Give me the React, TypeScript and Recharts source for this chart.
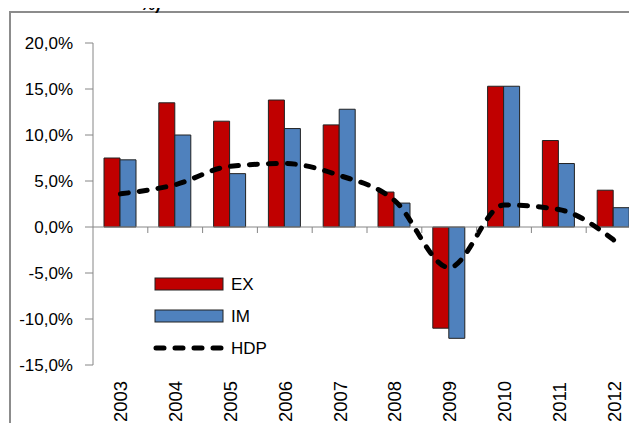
import React from "react";
import { ComposedChart, Bar, Line, XAxis, YAxis, ReferenceLine } from "recharts";

const years = ["2003", "2004", "2005", "2006", "2007", "2008", "2009", "2010", "2011", "2012"];
const ex = [7.5, 13.5, 11.5, 13.8, 11.1, 3.8, -11.0, 15.3, 9.4, 4.0];
const im = [7.3, 10.0, 5.8, 10.7, 12.8, 2.6, -12.1, 15.3, 6.9, 2.1];
const hdp = [3.6, 4.6, 6.6, 6.9, 5.6, 2.9, -4.4, 2.4, 1.9, -1.4];
const yTicks = [-15, -10, -5, 0, 5, 10, 15, 20];

const data = years.map((y, i) => ({ year: y, EX: ex[i], IM: im[i], HDP: hdp[i] }));

const RED = "#C00000";
const BLUE = "#4F81BD";
const FONT = "'Liberation Sans', Arial, sans-serif";

const CHART_W = 660;
const CHART_H = 431;
const PLOT_LEFT = 93;
const PLOT_RIGHT = 19;
const PLOT_TOP = 43;
const X_AXIS_H = 66;

const fmt = (v: number) => `${v.toFixed(1).replace(".", ",")}%`;

const band = (CHART_W - PLOT_LEFT - PLOT_RIGHT) / years.length;
const zeroY = PLOT_TOP + (20 / 35) * (CHART_H - PLOT_TOP - X_AXIS_H);

function YearTick(props: any) {
  const { x, payload } = props;
  return (
    <g>
      <line x1={x + band / 2} x2={x + band / 2} y1={zeroY} y2={zeroY + 6} stroke="#868686" />
      <text
        transform={`translate(${x + 7},422) rotate(-90)`}
        fontFamily={FONT}
        fontSize={18.5}
        fill="#000"
      >
        {payload.value}
      </text>
    </g>
  );
}

function LegendBox() {
  const items = [
    { name: "EX", kind: "bar", color: RED },
    { name: "IM", kind: "bar", color: BLUE },
    { name: "HDP", kind: "line", color: "#000" },
  ];
  return (
    <svg width={120} height={90}>
      {items.map((it, i) => {
        const cy = 9 + i * 32;
        return (
          <g key={it.name}>
            {it.kind === "bar" ? (
              <rect x={2} y={cy - 6} width={68} height={12} fill={it.color} stroke="#222" strokeWidth={1} />
            ) : (
              <line
                x1={3}
                x2={70}
                y1={cy}
                y2={cy}
                stroke="#000"
                strokeWidth={5}
                strokeDasharray="8 11"
                strokeLinecap="round"
              />
            )}
            <text x={78} y={cy + 6} fontFamily={FONT} fontSize={17} fill="#000">
              {it.name}
            </text>
          </g>
        );
      })}
    </svg>
  );
}

export default function App() {
  return (
    <div style={{ position: "relative", margin: -8, width: 637, height: 431, overflow: "hidden", background: "#fff" }}>
      <div
        style={{
          position: "absolute",
          left: 9,
          top: 11,
          width: 700,
          height: 500,
          borderLeft: "2px solid #8c8c8c",
          borderTop: "2px solid #8c8c8c",
        }}
      />
      <div style={{ position: "absolute", left: 0, top: 0 }}>
        <ComposedChart
          width={CHART_W}
          height={CHART_H}
          data={data}
          margin={{ top: PLOT_TOP, right: PLOT_RIGHT, left: 0, bottom: 0 }}
          barGap={0}
        >
          <YAxis
            width={PLOT_LEFT}
            domain={[-15, 20]}
            ticks={yTicks}
            tickFormatter={fmt}
            axisLine={{ stroke: "#868686" }}
            tickLine={{ stroke: "#868686" }}
            tickSize={8}
            tickMargin={12}
            tick={{ fontFamily: FONT, fontSize: 17, fill: "#000" }}
            allowDataOverflow
          />
          <XAxis
            dataKey="year"
            height={X_AXIS_H}
            axisLine={false}
            tickLine={false}
            interval={0}
            tick={<YearTick />}
          />
          <ReferenceLine y={0} stroke="#868686" strokeWidth={1} />
          <Bar dataKey="EX" fill={RED} stroke="#222" strokeWidth={1} barSize={16} isAnimationActive={false} />
          <Bar dataKey="IM" fill={BLUE} stroke="#222" strokeWidth={1} barSize={16} isAnimationActive={false} />
          <Line
            dataKey="HDP"
            type="monotone"
            stroke="#000"
            strokeWidth={5}
            strokeDasharray="8 11"
            strokeLinecap="round"
            dot={false}
            isAnimationActive={false}
          />
        </ComposedChart>
      </div>
      <div
        style={{
          position: "absolute",
          left: 140,
          top: -4,
          fontFamily: FONT,
          fontSize: 17,
          fontWeight: "bold",
          lineHeight: "17px",
        }}
      >
        %)
      </div>
      <div style={{ position: "absolute", left: 153, top: 275 }}>
        <LegendBox />
      </div>
    </div>
  );
}
